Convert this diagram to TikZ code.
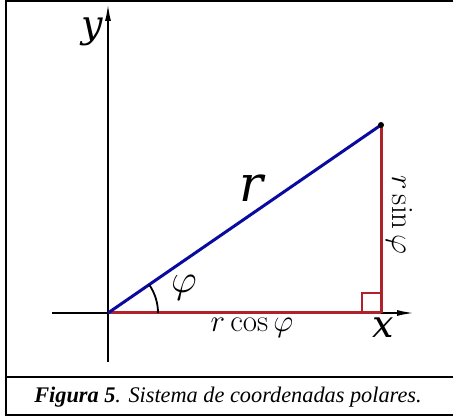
\RequirePackage{fix-cm}
\documentclass[tikz,border=0pt]{standalone}
\usepackage{fontspec}
\newfontfamily\capfont{Liberation Serif}
\newfontfamily\axfont{DejaVu Serif}
\usetikzlibrary{arrows.meta,calc}
\definecolor{rblue}{HTML}{0A0AA0}
\definecolor{rred}{HTML}{B0222A}
\tikzset{
  frame/.style={line width=2pt,draw=black},
  axis/.style={line width=1.8pt,-{Latex[length=17pt,width=6pt]}},
  radius line/.style={line width=3pt,draw=rblue},
  leg/.style={line width=3pt,draw=rred},
  lbl/.style={inner sep=0pt,anchor=center},
  blbl/.style={inner sep=0pt,anchor=base}
}
\begin{document}
\begin{tikzpicture}[x=1pt,y=-1pt]
\useasboundingbox (0,0) rectangle (453,419);
\begin{scope}
\clip (0,0) rectangle (453,419);
\draw[frame] (6,1) rectangle (470,415);
\draw[frame] (6,377) -- (470,377);
\end{scope}
\node[lbl,font=\capfont\fontsize{22.3}{24}\selectfont] (cap) at (228,397)
  {\textbf{\textit{Figura 5}}\textit{. Sistema de coordenadas polares.}};
% points
\coordinate (O) at (108,313);
\coordinate (P) at (381,125);
\coordinate (F) at (381,313);
\coordinate (xs) at (52,313);
\coordinate (xe) at (414,313);
\coordinate (ys) at (108,362);
\coordinate (ye) at (108,4);
% axes
\draw[axis] (xs) -- (xe);
\draw[axis] (ys) -- (ye);
% legs
\draw[leg] (O) -- (F);
\draw[leg] (F) -- (P);
\draw[rred,line width=2.2pt] (362,313) -- (362,293) -- (381,293);
% radius
\draw[radius line] (O) -- (P);
\fill (P) circle (3pt);
% angle arc
\draw[line width=1.8pt] ($(O)+(50,0)$) arc[start angle=0,end angle=-34.6,radius=50];
% labels
\node[blbl,font=\axfont\itshape\fontsize{38}{38}\selectfont] (ly) at (92,38) {y};
\node[blbl,font=\axfont\itshape\fontsize{38}{38}\selectfont] (lx) at (383,338) {x};
\node[blbl,font=\axfont\itshape\fontsize{50}{50}\selectfont] (lr) at (251,202) {r};
\node[lbl,font=\fontsize{40}{40}\selectfont] (lphi) at (184,288) {$\varphi$};
\node[lbl,font=\fontsize{31}{31}\selectfont] (lrc) at (252,328) {$r\cos\varphi$};
\node[lbl,font=\fontsize{31}{31}\selectfont,rotate=-90] (lrs) at (399,215) {$r\sin\varphi$};
\end{tikzpicture}
\end{document}
